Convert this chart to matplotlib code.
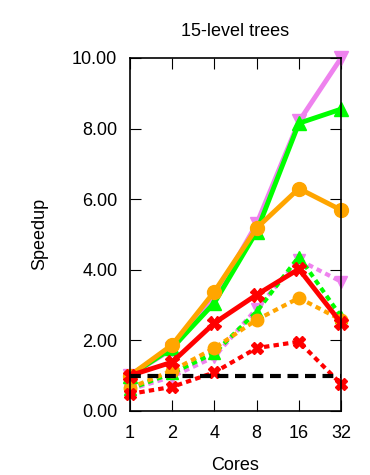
import numpy as np
import matplotlib.pyplot as plt

plt.rcParams['font.family'] = ['Liberation Sans', 'DejaVu Sans']

cores = [1, 2, 4, 8, 16, 32]
core_labels = ['1', '2', '4', '8', '16', '32']

# solid series
violet_solid = [1.0, 1.75, 3.2, 5.3, 8.2, 10.0]
green_solid = [1.0, 1.78, 3.06, 5.08, 8.15, 8.55]
orange_solid = [1.0, 1.87, 3.38, 5.18, 6.3, 5.69]
red_solid = [1.0, 1.38, 2.49, 3.29, 4.02, 2.49]

# dashed series
violet_dash = [0.6, 0.97, 1.53, 2.9, 4.28, 3.66]
green_dash = [0.62, 1.07, 1.64, 2.81, 4.37, 2.67]
orange_dash = [0.65, 1.14, 1.78, 2.58, 3.2, 2.58]
red_dash = [0.48, 0.68, 1.09, 1.78, 1.96, 0.76]

baseline = [1.0] * len(cores)

fig = plt.figure(figsize=(3.7, 4.75), dpi=100)
ax = fig.add_axes([0.351, 0.135, 0.571, 0.743])

x = np.log2(cores)
dots = (0, (1.3, 1.0))
dash = (0, (2.6, 1.6))

ax.plot(x, violet_dash, color='violet', lw=3, ls=dots, marker='v', ms=9, clip_on=False)
ax.plot(x, green_dash, color='lime', lw=3, ls=dots, marker='^', ms=9, clip_on=False)
ax.plot(x, orange_dash, color='orange', lw=3, ls=dots, marker='o', ms=9, clip_on=False)
ax.plot(x, red_dash, color='red', lw=3, ls=dots, marker='X', ms=9, clip_on=False)

ax.plot(x, violet_solid, color='violet', lw=3.5, marker='v', ms=10, clip_on=False)
ax.plot(x, green_solid, color='lime', lw=3.5, marker='^', ms=10, clip_on=False)
ax.plot(x, orange_solid, color='orange', lw=3.5, marker='o', ms=10, clip_on=False)
ax.plot(x, red_solid, color='red', lw=3.5, marker='X', ms=10, clip_on=False)

ax.plot(x, baseline, color='black', lw=3, ls=dash, clip_on=False)

ax.set_xlim(x[0], x[-1])
ax.set_ylim(0, 10)
ax.set_xticks(x)
ax.set_xticklabels(core_labels)
ax.set_yticks(np.arange(0, 11, 2))
ax.set_yticklabels(['%.2f' % v for v in np.arange(0, 11, 2)])
ax.tick_params(direction='in', top=True, right=True, length=8, labelsize=13)
ax.tick_params(axis='x', pad=10)
ax.tick_params(axis='y', pad=9)
for s in ax.spines.values():
    s.set_linewidth(1.2)

ax.set_title('15-level trees', fontsize=13, pad=16)
ax.set_xlabel('Cores', fontsize=13, labelpad=11)
ax.set_ylabel('Speedup', fontsize=13, labelpad=17)

fig.savefig('out.png', dpi=100)
